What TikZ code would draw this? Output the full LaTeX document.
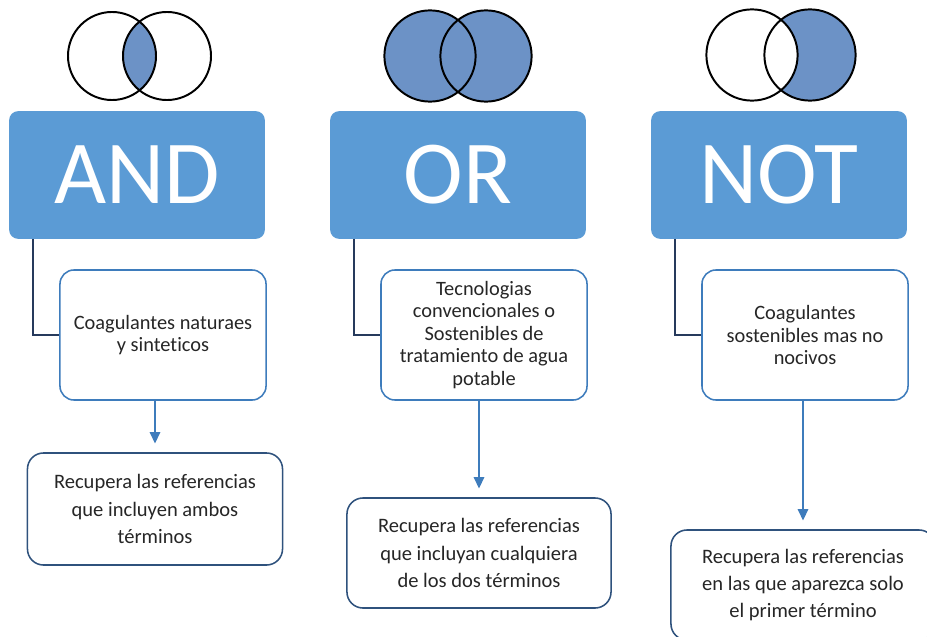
\documentclass[tikz,border=0pt]{standalone}
\usepackage{fontspec}
\setmainfont{Carlito}[Ligatures = NoCommon]
\usetikzlibrary{arrows.meta}

\definecolor{HeadBlue}{RGB}{91,155,213}
\definecolor{VennBlue}{RGB}{108,146,198}
\definecolor{EdgeBlue}{RGB}{62,124,188}
\definecolor{DarkBlue}{RGB}{47,82,125}
\definecolor{LinkBlue}{RGB}{38,58,92}

\begin{document}
\begin{tikzpicture}[
      x = 0.025cm, y = -0.025cm, line width = 1.1pt,
      Head/.style = {draw = HeadBlue, fill = HeadBlue, rounded corners = 0.2cm, minimum width = 6.35cm, minimum height = 3.15cm, text = white, font = \fontsize{64}{64}\selectfont},
      Term/.style = {draw = EdgeBlue, fill = white, rounded corners = 0.35cm, minimum width = 5.15cm, minimum height = 3.25cm, align = center, text = black!85, font = \fontsize{14.5}{16}\selectfont},
      Result/.style = {draw = DarkBlue, fill = white, rounded corners = 0.4cm, align = center, text = black!85, font = \fontsize{14.6}{19.5}\selectfont},
      Link/.style = {draw = LinkBlue},
      Line/.style = {draw = EdgeBlue, -{Triangle[length = 8pt, width = 7.5pt]}, shorten > = 0.22cm},
      Venn/.style = {draw = black, line width = 1.4pt}
    ]
    \clip (0,0) rectangle (927,637);

    % venn diagrams
    \begin{scope}
      \clip (112,56) circle (1.1cm);
      \fill [VennBlue] (167,56) circle (1.1cm);
    \end{scope}
    \draw [Venn] (112,56) circle (1.1cm) (167,56) circle (1.1cm);

    \fill [VennBlue] (430,56) circle (1.14cm) (486,56) circle (1.14cm);
    \draw [Venn] (430,56) circle (1.14cm) (486,56) circle (1.14cm);

    \fill [VennBlue] (810,55) circle (1.14cm);
    \fill [white] (752,55) circle (1.14cm);
    \draw [Venn] (752,55) circle (1.14cm) (810,55) circle (1.14cm);

    % operators
    \node at (137,175) [Head](AND){AND};
    \node at (458,175) [Head](OR){OR};
    \node at (779,175) [Head](NOT){NOT};

    % search terms
    \node at (163,335) [Term](AndTerm){Coagulantes naturaes\\y sinteticos};
    \node at (484,335) [Term](OrTerm){Tecnologias\\convencionales o\\Sostenibles de\\tratamiento de agua\\potable};
    \node at (805,335) [Term](NotTerm){Coagulantes\\sostenibles mas no\\nocivos};

    % results
    \node at (155,509) [Result, minimum width = 6.375cm, minimum height = 2.8cm](AndResult){Recupera las referencias\\que incluyen ambos\\términos};
    \node at (479,553) [Result, minimum width = 6.6cm, minimum height = 2.75cm](OrResult){Recupera las referencias\\que incluyan cualquiera\\de los dos términos};
    \node at (803,585) [Result, minimum width = 6.6cm, minimum height = 2.75cm](NotResult){Recupera las referencias\\en las que aparezca solo\\el primer término};

    \path [Link] ([xshift = 0.6cm]AND.south west) |- (AndTerm.west);
    \path [Link] ([xshift = 0.6cm]OR.south west) |- (OrTerm.west);
    \path [Link] ([xshift = 0.6cm]NOT.south west) |- (NotTerm.west);

    \path [Line] (AndTerm.south -| AndResult.north) -- (AndResult.north);
    \path [Line] (OrTerm.south -| OrResult.north) -- (OrResult.north);
    \path [Line] (NotTerm.south -| NotResult.north) -- (NotResult.north);
  \end{tikzpicture}
\end{document}
